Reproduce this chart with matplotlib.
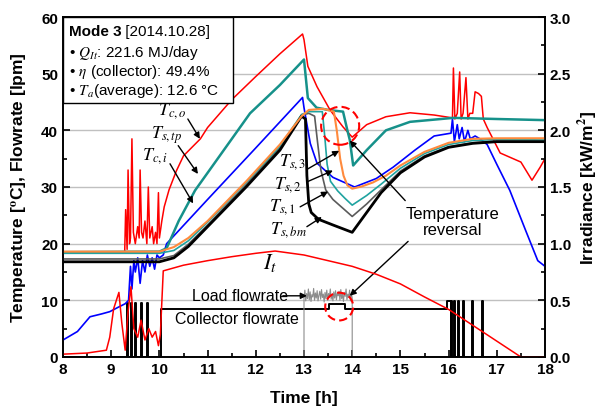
import numpy as np
import matplotlib
matplotlib.use('Agg')
import matplotlib.pyplot as plt
from matplotlib.patches import Ellipse, Rectangle
from matplotlib.ticker import MultipleLocator, FormatStrFormatter

plt.rcParams['font.family'] = ['Liberation Sans', 'DejaVu Sans']
plt.rcParams['mathtext.fontset'] = 'stix'

# ---- data (time [h], value) ----
# collector outlet temperature
t_co = [8.0, 9.28, 9.3, 9.33, 9.35, 9.38, 9.4, 9.43, 9.46, 9.5, 9.55, 9.58, 9.6, 9.63, 9.66, 9.7,
        9.74, 9.77, 9.8, 9.85, 9.88, 9.92, 9.95, 9.98, 10.0, 10.05, 10.1, 10.2, 10.35, 10.5, 10.85,
        11.0, 11.5, 12.0, 12.5, 12.97, 13.0, 13.08, 13.27, 13.54, 13.81, 14.0, 14.3, 14.7, 15.2,
        15.7, 16.08, 16.1, 16.13, 16.18, 16.23, 16.26, 16.3, 16.36, 16.4, 16.44, 16.5, 16.55, 16.62,
        16.68, 16.72, 16.8, 17.07, 17.5, 17.73, 17.9, 18.0]
v_co = [18.3, 18.5, 26, 19, 33, 20, 21, 38.5, 22, 20, 23, 21, 33, 22, 21, 24,
        20, 30, 21, 23, 20, 22, 20, 29, 21, 24, 26.5, 29.5, 32.8, 35.5, 38.5,
        40.5, 45.4, 49.5, 53.5, 57, 56, 51.3, 47.7, 43.6, 40.6, 38.8, 41, 42.4, 43.1,
        42.7, 42.2, 51, 42, 43, 50.3, 42, 43, 49.3, 42, 43, 43, 46.8, 46.5,
        46, 42, 40.5, 36, 34.4, 31.2, 33.5, 35]

# storage top temperature
t_tp = [8.0, 10.0, 10.15, 10.4, 10.74, 11.0, 11.88, 12.5, 13.0, 13.08, 13.26, 13.5, 13.81, 13.9,
        13.95, 14.02, 14.3, 14.7, 15.2, 16.1, 17.0, 18.0]
v_tp = [18.5, 18.6, 19.2, 24, 29.4, 32.5, 43, 48, 52.5, 45.7, 44, 43.6, 43.3, 40,
        38.3, 33.8, 36.5, 40, 41.5, 42.2, 42, 41.8]

# collector inlet temperature
t_ci = [8.0, 8.3, 8.56, 8.8, 8.97, 9.15, 9.29, 9.36, 9.4, 9.43, 9.47, 9.5, 9.55, 9.6, 9.65, 9.7,
        9.75, 9.8, 9.85, 9.9, 9.95, 10.0, 10.08, 10.15, 11.0, 12.0, 12.97, 13.0, 13.13, 13.27, 13.6,
        14.05, 14.5, 14.85, 15.3, 15.7, 16.05, 16.08, 16.12, 16.18, 16.22, 16.28, 16.33, 16.4,
        16.45, 16.55, 16.65, 16.8, 17.0, 17.27, 17.6, 17.85, 18.0]
v_ci = [3.0, 4.5, 7.1, 7.6, 8.0, 8.8, 9.4, 10, 16, 12, 17, 15, 17.5, 13, 17, 15,
        18, 16, 17.5, 15.5, 18, 17.5, 18, 20, 27.8, 36.9, 45.8, 44, 37.7, 34.2, 31.7,
        30, 31.5, 33.5, 36.5, 39, 39.5, 42, 38, 41, 38.5, 40.5, 38, 40,
        38.5, 39, 38.5, 37.5, 34, 29.4, 22.3, 17, 16]

# storage layer temperatures
t_s3 = [8.0, 10.0, 10.3, 10.6, 11.0, 11.8, 12.5, 12.95, 13.1, 13.4, 13.62, 13.68, 13.75, 13.82,
        13.9, 14.0, 14.2, 14.43, 14.7, 15.0, 15.5, 16.0, 16.5, 17.0, 18.0]
v_s3 = [18.6, 18.6, 19.4, 21, 24, 31, 37.5, 42.5, 43.6, 43.8, 43.3, 40, 35, 32,
        30.3, 29.7, 30.1, 30.8, 32, 33.8, 36.2, 37.8, 38.5, 38.6, 38.6]

t_s2 = [8.0, 10.0, 10.3, 10.6, 11.0, 11.8, 12.5, 12.95, 13.1, 13.38, 13.43, 13.48, 13.55, 13.7,
        13.85, 14.0, 14.3, 14.6, 15.0, 15.5, 16.0, 16.5, 17.0, 18.0]
v_s2 = [18.3, 18.3, 18.8, 20.5, 23.8, 30.8, 37.2, 42.8, 43.3, 43.3, 39, 34, 31, 29.3,
        28, 26.8, 28.5, 30.5, 33.3, 35.9, 37.5, 38.2, 38.4, 38.3]

t_s1 = [8.0, 10.0, 10.3, 10.6, 11.0, 11.8, 12.5, 12.95, 13.1, 13.22, 13.28, 13.35, 13.45, 13.6,
        13.8, 14.0, 14.3, 14.6, 15.0, 15.5, 16.0, 16.5, 17.0, 18.0]
v_s1 = [17.3, 17.3, 17.9, 19.9, 23.3, 30.4, 36.9, 42.7, 43, 42.5, 38, 33, 29.5, 27.8,
        26.3, 24.8, 27, 29.5, 32.8, 35.5, 37.1, 37.8, 38.1, 38.1]

t_bm = [8.0, 10.0, 10.3, 10.6, 11.0, 11.8, 12.5, 12.95, 13.03, 13.06, 13.1, 13.15, 13.3, 13.6,
        14.0, 14.3, 14.6, 15.0, 15.5, 16.0, 16.5, 17.0, 18.0]
v_bm = [16.8, 16.8, 17.5, 19.5, 23, 30, 36.5, 42.5, 42, 32, 27, 25.5, 24.3, 23.3,
        22, 25.5, 29, 32.5, 35.3, 37, 37.7, 38, 38]

# irradiance [kW/m2]
t_it = [8.0, 8.5, 8.9, 8.97, 9.05, 9.16, 9.22, 9.29, 9.35, 9.41, 9.47, 9.55, 9.62, 9.7, 9.78,
        9.85, 9.92, 9.98, 10.02, 10.08, 10.5, 11.0, 11.5, 12.0, 12.4, 13.0, 13.5, 14.0, 14.5,
        15.0, 15.5, 16.0, 16.5, 17.0, 17.5, 18.0]
v_it = [0.025, 0.035, 0.06, 0.175, 0.425, 0.57, 0.3, 0.06, 0.4, 0.62, 0.25, 0.175, 0.325, 0.15,
        0.25, 0.175, 0.225, 0.1, 0.2, 0.76, 0.81, 0.85, 0.885, 0.915, 0.935, 0.9, 0.85, 0.8, 0.73,
        0.645, 0.53, 0.42, 0.28, 0.14, 0.0, 0.0]

# collector flowrate [lpm] (step signal)
t_cf = [8.0, 9.32, 9.34, 9.42, 9.44, 9.50, 9.52, 9.62, 9.64, 9.75, 9.77, 10.04, 13.52, 13.86,
        15.96, 16.04, 16.06, 16.08, 16.12, 16.14, 16.19, 16.21, 16.29, 16.31, 16.48, 16.5,
        16.7, 16.72, 18.0]
v_cf = [0, 9.6, 0, 9.6, 0, 9.6, 0, 9.6, 0, 9.6, 0, 8.4, 9.3, 8.4,
        9.9, 0, 9.9, 0, 9.9, 0, 9.9, 0, 9.9, 0, 9.9, 0,
        9.9, 0, 0]

# load flowrate [lpm], 13:00-14:00
v_load = [10.5, 11.8, 9.9, 11.2, 10.3, 12.0, 10.1, 11.5, 9.8, 11.0, 10.6, 12.1, 10.0, 11.3,
          10.4, 11.7, 9.9, 10.9, 11.6, 10.2, 11.9, 10.5, 11.1, 9.7, 11.4, 10.3, 11.8, 10.0,
          11.2, 10.6, 12.0, 10.2, 11.0, 9.9, 11.5, 10.4, 11.7, 10.1, 11.3, 10.8, 11.6, 10.0,
          11.9, 10.3, 11.2, 9.8, 11.4, 10.7, 12.0, 10.1, 11.1, 10.5, 11.8, 9.9, 11.3, 10.4]
t_load = [13.0] + list(np.linspace(13.0, 14.0, len(v_load))) + [14.0]
v_load = [0] + v_load + [0]

# ---- figure ----
fig = plt.figure(figsize=(6.05, 4.14), dpi=100)
ax = fig.add_axes([63/605, 1-358/414, 482/605, 340/414])
ax2 = ax.twinx()

ax.set_xlim(8, 18)
ax.set_ylim(0, 60)
ax2.set_ylim(0, 3)
ax.yaxis.grid(True, color='#c0c0c0', lw=1)
ax.set_axisbelow(True)

ax.plot(t_cf, v_cf, color='black', lw=1.4, drawstyle='steps-post', zorder=2)
ax.plot(t_load, v_load, color='#8c8c8c', lw=0.8, zorder=2)
ax.plot(t_ci, v_ci, color='#0000ff', lw=1.2, zorder=3)
ax.plot(t_co, v_co, color='#ff0000', lw=1.1, zorder=3)
ax.plot(t_tp, v_tp, color='#16918a', lw=1.8, zorder=4)
ax.plot(t_s1, v_s1, color='#5a5a5a', lw=1.2, zorder=4)
ax.plot(t_s2, v_s2, color='#1fa3a0', lw=1.2, zorder=4)
ax.plot(t_bm, v_bm, color='black', lw=2.0, zorder=5)
ax.plot(t_s3, v_s3, color='#ff8a3d', lw=1.5, zorder=6)
ax2.plot(t_it, v_it, color='#ff0000', lw=1.1)

# ticks
ax.xaxis.set_major_locator(MultipleLocator(1))
ax.xaxis.set_minor_locator(MultipleLocator(0.5))
ax.yaxis.set_major_locator(MultipleLocator(10))
ax.yaxis.set_minor_locator(MultipleLocator(5))
ax2.yaxis.set_major_locator(MultipleLocator(0.5))
ax2.yaxis.set_minor_locator(MultipleLocator(0.25))
ax2.yaxis.set_major_formatter(FormatStrFormatter('%.1f'))
for a in (ax, ax2):
    a.tick_params(which='both', direction='in', labelsize=11, width=1.2)
    a.tick_params(which='major', length=5)
    a.tick_params(which='minor', length=3)
    for lab in a.get_xticklabels() + a.get_yticklabels():
        lab.set_fontweight('bold')
for sp in list(ax.spines.values()) + list(ax2.spines.values()):
    sp.set_linewidth(1.2)

ax.set_xlabel('Time [h]', fontsize=12.5, fontweight='bold', labelpad=10)
ax.set_ylabel(r'Temperature [$^{\mathbf{o}}$C], Flowrate [lpm]', fontsize=12.5, fontweight='bold', labelpad=9)
ax2.set_ylabel(r'Irradiance [kW/m$^{\mathbf{2}}$]', fontsize=12.5, fontweight='bold', labelpad=4)

# info box
ax.add_patch(Rectangle((0, 0.747), 0.353, 0.253, transform=ax.transAxes, facecolor='white',
                       edgecolor='black', lw=1, zorder=10))
t1 = ax.text(0.012, 0.958, 'Mode 3', transform=ax.transAxes, fontsize=11, fontweight='bold',
             va='center', zorder=11)
ax.annotate(' [2014.10.28]', xy=(1, 0), xycoords=t1, va='bottom', fontsize=11, zorder=11)
ax.text(0.012, 0.897, r'• $Q_{It}$: 221.6 MJ/day', transform=ax.transAxes, fontsize=11, va='center', zorder=11)
ax.text(0.012, 0.841, r'• $\eta$ (collector): 49.4%', transform=ax.transAxes, fontsize=11, va='center', zorder=11)
ax.text(0.012, 0.785, r'• $T_a$(average): 12.6 °C', transform=ax.transAxes, fontsize=11, va='center', zorder=11)

# labels
labels = [(r'$T_{c,o}$', 10.26, 43.6), (r'$T_{s,tp}$', 10.16, 39.4), (r'$T_{c,i}$', 9.91, 35.6),
          (r'$T_{s,3}$', 12.77, 34.5), (r'$T_{s,2}$', 12.67, 30.6), (r'$T_{s,1}$', 12.56, 26.7),
          (r'$T_{s,bm}$', 12.67, 22.6)]
for txt, x, y in labels:
    ax.text(x, y, txt, fontsize=13, ha='center', va='center', zorder=8)

arrows = [((10.59, 42.0), (10.84, 38.5)), ((10.39, 37.3), (10.80, 32.3)), ((10.22, 34.1), (10.70, 27.1)),
          ((13.08, 33.2), (13.73, 36.4)), ((13.06, 30.9), (13.60, 32.9)), ((12.92, 26.5), (13.50, 29.2)),
          ((13.06, 23.0), (13.37, 24.7)), ((15.10, 27.6), (13.95, 38.2)), ((15.16, 20.4), (13.95, 10.8)),
          ((12.56, 10.8), (13.06, 10.8))]
for (x0, y0), (x1, y1) in arrows:
    ax.annotate('', xy=(x1, y1), xytext=(x0, y0), zorder=8,
                arrowprops=dict(arrowstyle='-|>', color='black', lw=1, mutation_scale=9,
                                shrinkA=0, shrinkB=0))

ax.text(16.09, 23.9, 'Temperature\nreversal', fontsize=12, ha='center', va='center',
        linespacing=1.1, zorder=8)
ax.text(12.29, 16.8, r'$I_t$', fontsize=16, ha='center', va='center', zorder=8)
ax.text(11.67, 10.8, 'Load flowrate', fontsize=11.5, ha='center', va='center', zorder=8)
ax.text(11.61, 6.8, 'Collector flowrate', fontsize=11.5, ha='center', va='center', zorder=8)

for cx, cy, w, h in [(13.75, 40.8, 0.79, 6.7), (13.73, 8.9, 0.58, 4.9)]:
    ax.add_patch(Ellipse((cx, cy), w, h, fill=False, edgecolor='#ff0000', lw=1.5,
                         linestyle=(0, (4, 2)), zorder=9))

fig.savefig('out.png', dpi=100)
